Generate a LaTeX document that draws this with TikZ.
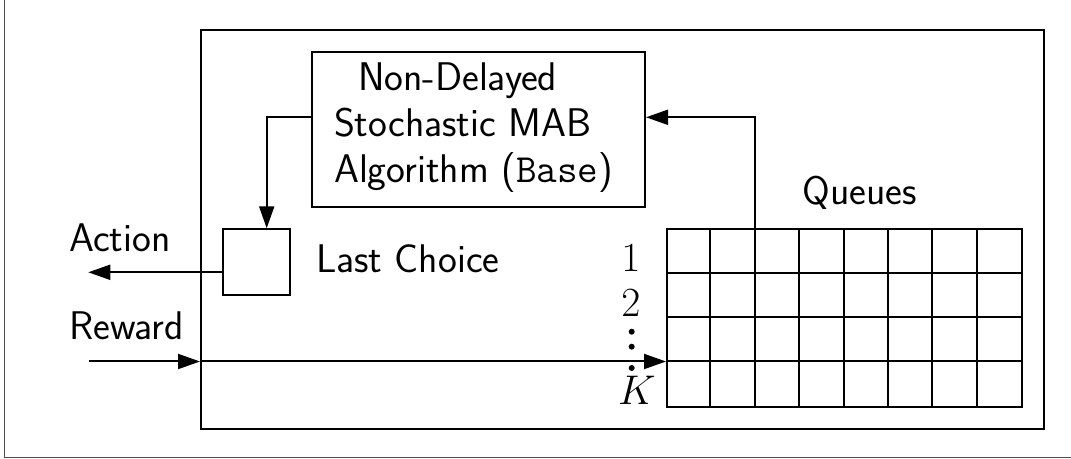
\documentclass[tikz,border=0pt]{standalone}
\usetikzlibrary{arrows.meta}
\begin{document}
\begin{tikzpicture}[x=0.5pt,y=-0.5pt,
  line width=1pt,
  txt/.style={inner sep=0pt,font=\sffamily\fontsize{20}{23}\selectfont},
  mtxt/.style={inner sep=0pt,font=\fontsize{19.5}{23}\selectfont},
  arr/.style={-{Triangle[length=11pt,width=7.5pt]}},
  boxs/.style={draw,inner sep=0pt}]
\useasboundingbox (0,0) rectangle (1071,459);
% outer frame (partially visible)
\draw[line width=0.6pt,black!70] (4.3,0) -- (4.3,457.7) -- (1071,457.7);
% inner box
\node[boxs,anchor=north west,minimum width=421.5pt,minimum height=199.5pt] (inner) at (200,29) {};
% MAB box
\node[boxs,anchor=north west,minimum width=166.5pt,minimum height=77.5pt] (mab) at (311,50.7) {};
\node[txt,anchor=west,align=left] (mabtxt) at (333,128) {\hspace{12pt}Non-Delayed\\Stochastic MAB\\Algorithm (\texttt{Base})};
% last choice box
\node[boxs,anchor=north west,minimum width=33.5pt,minimum height=33pt] (last) at (222,228.3) {};
\node[txt,anchor=base west] (lastlbl) at (315,272.3) {Last Choice};
% queues grid
\node[boxs,anchor=north west,minimum width=177.5pt,minimum height=88.75pt] (grid) at (666,228.3) {};
\foreach \i in {1,...,7} \draw (666+44.375*\i,228.3) -- (666+44.375*\i,405.8);
\foreach \j in {1,2,3} \draw (666,228.3+44.375*\j) -- (1021,228.3+44.375*\j);
\node[txt,anchor=base west] (qlbl) at (801.7,205) {Queues};
% row labels
\node[mtxt,anchor=base] (r1) at (631,271.7) {$1$};
\node[mtxt,anchor=base] (r2) at (631,316.7) {$2$};
\node[mtxt,anchor=base] (rk) at (637,405) {$K$};
\foreach \yy in {331.7,346.7,368} \fill (631.7,\yy) circle (1.5pt);
% labels outside
\node[txt,anchor=base west] (act) at (68.3,251.7) {Action};
\node[txt,anchor=base west] (rew) at (68.3,340) {Reward};
% connectors
\coordinate (q1) at (755,228.3);
\coordinate (c1) at (755,117.3);
\draw[arr] (q1) -- (c1) -- (c1 -| mab.east);
\coordinate (c2) at (266.7,117.3);
\draw[arr] (c2 -| mab.west) -- (c2) -- (c2 |- last.north);
\coordinate (aend) at (88.3,272.3);
\draw[arr] (last.west |- aend) -- (aend);
\coordinate (rstart) at (89,361.5);
\coordinate (rin) at (200,361.5);
\draw[arr] (rstart) -- (rin);
\draw[arr] (rin) -- (rin -| grid.west);
\end{tikzpicture}
\end{document}
